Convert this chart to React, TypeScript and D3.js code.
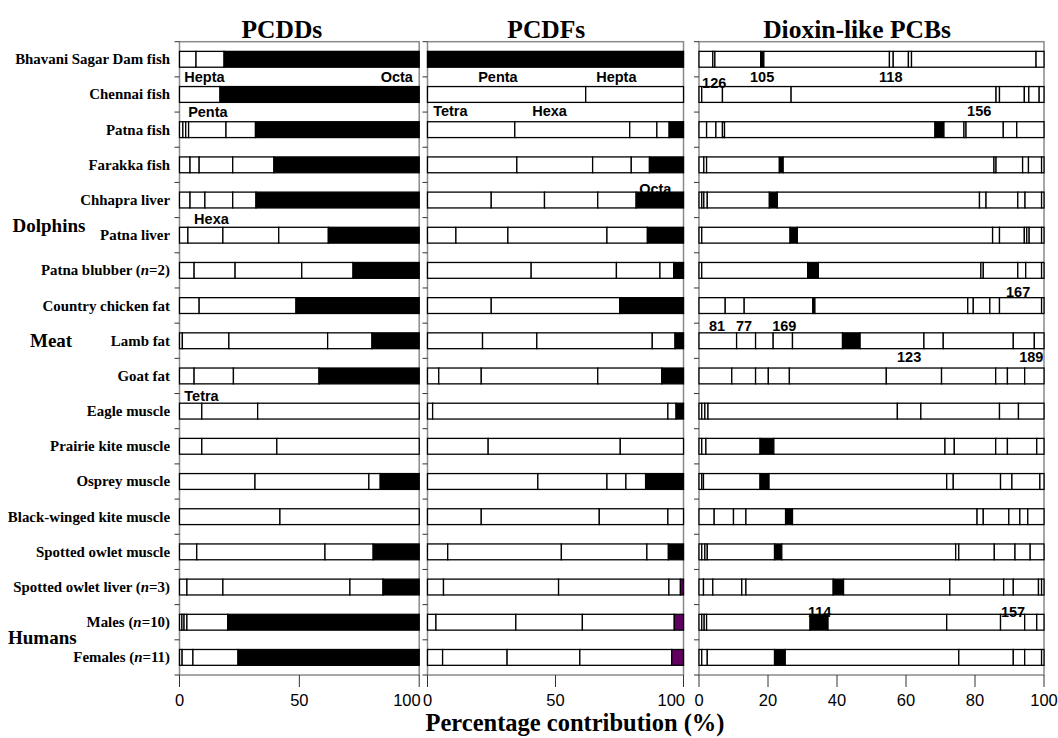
import React from "react";
import * as d3 from "d3";

const categories = [
  "Bhavani Sagar Dam fish",
  "Chennai fish",
  "Patna fish",
  "Farakka fish",
  "Chhapra liver",
  "Patna liver",
  "Patna blubber (n=2)",
  "Country chicken fat",
  "Lamb fat",
  "Goat fat",
  "Eagle muscle",
  "Prairie kite muscle",
  "Osprey muscle",
  "Black-winged kite muscle",
  "Spotted owlet muscle",
  "Spotted owlet liver (n=3)",
  "Males (n=10)",
  "Females (n=11)",
];

// PCDD homologue shares (%), last value = Octa (drawn filled)
const pcddShares = [
  [6.9, 11.7, 81.4],
  [16.9, 83.1],
  [1.4, 1.2, 1.2, 15.6, 12.3, 68.3],
  [4.4, 3.8, 14.0, 17.2, 60.6],
  [4.4, 6.2, 11.6, 9.7, 68.1],
  [3.5, 14.6, 23.3, 20.7, 37.9],
  [6.1, 17.1, 27.8, 21.4, 27.6],
  [8.2, 40.4, 51.4],
  [1.2, 19.4, 41.2, 18.5, 19.7],
  [6.1, 16.4, 35.7, 41.8],
  [9.3, 23.3, 67.4, 0],
  [9.3, 31.3, 59.4, 0],
  [31.5, 47.5, 4.75, 16.25],
  [41.9, 58.1, 0],
  [7.2, 53.5, 20.1, 19.2],
  [3.1, 15.0, 53.0, 13.8, 15.1],
  [1.0, 0.9, 1.2, 17.0, 79.9],
  [1.1, 4.5, 18.8, 75.6],
];

// PCDF homologue shares (%), last value = Octa (drawn filled)
const pcdfShares = [
  [100],
  [61.8, 38.2, 0],
  [34.1, 44.9, 10.6, 4.8, 5.6],
  [34.9, 29.6, 15.1, 7.1, 13.3],
  [24.9, 20.8, 20.8, 15.0, 18.5],
  [11.1, 20.3, 38.7, 15.8, 14.1],
  [40.5, 33.3, 17.0, 5.4, 3.8],
  [24.9, 50.2, 24.9],
  [21.5, 21.2, 45.1, 8.9, 3.3],
  [4.4, 16.6, 45.5, 25.0, 8.5],
  [2.0, 91.9, 3.2, 2.9],
  [23.7, 51.6, 24.7, 0],
  [43.1, 27.0, 7.4, 7.7, 14.8],
  [21.0, 46.1, 26.8, 6.1, 0],
  [7.9, 44.4, 33.4, 8.4, 5.9],
  [6.25, 44.95, 43.1, 4.5, 1.2],
  [3.3, 31.2, 26.0, 35.9, 3.6],
  [5.9, 25.2, 28.4, 35.9, 4.6],
];
const pcdfPurpleRows = ["Spotted owlet liver (n=3)", "Males (n=10)", "Females (n=11)"];

// Dioxin-like PCB congener shares (%)
const pcbShares = [
  [4.0, 0.6, 13.3, 0.9, 36.4, 1.1, 4.4, 0.9, 36.1, 2.3],
  [0.8, 6.0, 19.9, 59.4, 1.0, 7.2, 1.3, 3.0, 1.4],
  [2.2, 2.7, 1.9, 0.6, 61.0, 2.6, 5.8, 0.6, 10.8, 3.9, 7.9],
  [1.4, 0.8, 21.1, 1.1, 61.1, 0.6, 7.7, 1.7, 3.8, 0.7],
  [0.8, 0.6, 1.0, 18.0, 2.3, 58.6, 1.9, 9.2, 2.1, 4.8, 0.7],
  [0.8, 25.6, 2.1, 56.6, 2.0, 7.2, 0.7, 0.7, 3.6, 0.7],
  [0.8, 30.7, 3.1, 47.1, 0.7, 10.0, 2.3, 4.6, 0.7],
  [7.6, 5.5, 19.9, 0.6, 44.3, 1.6, 4.8, 2.8, 12.2, 0.7],
  [10.9, 5.5, 5.1, 5.6, 14.5, 5.1, 18.5, 5.6, 20.3, 6.1, 2.8],
  [9.5, 6.9, 3.7, 6.1, 28.1, 16.0, 15.7, 3.4, 5.0, 5.6],
  [0.8, 0.9, 0.9, 54.9, 6.8, 22.8, 5.5, 7.4],
  [0.8, 1.2, 15.7, 4.0, 49.6, 2.7, 12.0, 3.4, 8.5, 2.1],
  [0.8, 0.5, 16.4, 2.6, 51.5, 1.9, 13.7, 3.3, 8.1, 1.2],
  [4.4, 5.6, 3.6, 11.5, 2.0, 53.5, 1.8, 7.4, 3.2, 2.3, 4.7],
  [0.8, 0.9, 0.7, 19.5, 2.1, 50.4, 0.9, 10.3, 6.0, 4.4, 4.0],
  [1.3, 2.7, 8.4, 1.2, 25.3, 3.0, 30.8, 15.6, 2.8, 7.3, 0.9, 0.7],
  [0.8, 0.7, 0.7, 30.0, 5.2, 34.4, 15.6, 7.0, 3.5, 2.1],
  [0.8, 1.6, 19.5, 3.1, 50.3, 15.8, 3.3, 4.9, 0.7],
];
// index of the filled congener (PCB 126) in each row, -1 = not visible
const pcbFilledIndex = [3, -1, 5, 3, 4, 2, 2, 3, 5, -1, -1, 3, 3, 4, 4, 5, 4, 3];

const pcddTicks = [0, 50, 100];
const pcdfTicks = [0, 50, 100];
const pcbTicks = [0, 20, 40, 60, 80, 100];

const panelTitles = ["PCDDs", "PCDFs", "Dioxin-like PCBs"];
const xTitle = "Percentage contribution (%)";

const groupNames = ["Dolphins", "Meat", "Humans"];
const groupRowPos = [4.71, 8.0, 16.42];

// congener / homologue labels: panel, row it sits above, % position, text
const labelPanel = [0, 0, 0, 0, 0, 1, 1, 1, 1, 1, 2, 2, 2, 2, 2, 2, 2, 2, 2, 2, 2, 2];
const labelRow = [1, 1, 2, 5, 10, 1, 1, 2, 2, 4, 1, 1, 1, 2, 7, 8, 8, 8, 9, 9, 16, 16];
const labelAt = [2.0, 97.4, 3.6, 6.1, 2.0, 19.8, 65.9, 2.2, 40.9, 82.7, 0.9, 14.8, 52.2, 77.7, 89.0, 2.9, 10.7, 21.2, 57.4, 92.8, 31.6, 87.5];
const labelText = ["Hepta", "Octa", "Penta", "Hexa", "Tetra", "Penta", "Hepta", "Tetra", "Hexa", "Octa", "126", "105", "118", "156", "167", "81", "77", "169", "123", "189", "114", "157"];
const labelLift = [5, 5, 5, 3.3, 2, 5, 5, 5.7, 5.7, -1.4, -1.5, 4.9, 4.9, 5.7, 1, 1.8, 1.8, 1.8, 5.7, 5.7, -2.5, -2.5];

const W = 1058;
const H = 738;
const TOP = 41.7;
const BOTTOM = 675;
const SERIF = "'Liberation Serif', 'Times New Roman', serif";
const SANS = "'Liberation Sans', Arial, sans-serif";
const PURPLE = "#620062";

const panels = [
  { x0: 179.5, x1: 419.2, shares: pcddShares, ticks: pcddTicks, titleAt: 42.7, endAnchorLast: true },
  { x0: 427.5, x1: 683.5, shares: pcdfShares, ticks: pcdfTicks, titleAt: 46.4, endAnchorLast: true },
  { x0: 699, x1: 1044, shares: pcbShares, ticks: pcbTicks, titleAt: 45.8, endAnchorLast: false },
];

function RowLabel({ text, x, y }: { text: string; x: number; y: number }) {
  const m = text.match(/^(.*)\(n=(\d+)\)$/);
  return (
    <text x={x} y={y} textAnchor="end" dominantBaseline="central" fontFamily={SERIF} fontWeight="bold" fontSize={14.9}>
      {m ? (
        <>
          {m[1]}(<tspan fontStyle="italic">n</tspan>={m[2]})
        </>
      ) : (
        text
      )}
    </text>
  );
}

export default function App() {
  const y = d3
    .scaleBand<string>()
    .domain(categories)
    .range([TOP, BOTTOM])
    .paddingInner(0.55)
    .paddingOuter(0.275);
  const step = y.step();
  const bw = y.bandwidth();
  const rowCenter = (pos: number) => TOP + 0.275 * step + pos * step + bw / 2;

  return (
    <svg width={W} height={H} style={{ position: "absolute", left: 0, top: 0, background: "#fff" }}>
      {/* row labels */}
      {categories.map((c) => (
        <RowLabel key={c} text={c} x={170} y={(y(c) as number) + bw / 2} />
      ))}
      {groupNames.map((g, i) => (
        <text
          key={g}
          x={[12.5, 30, 8][i]}
          y={rowCenter(groupRowPos[i])}
          dominantBaseline="central"
          fontFamily={SERIF}
          fontWeight="bold"
          fontSize={19}
        >
          {g}
        </text>
      ))}

      {panels.map((p, pi) => {
        const x = d3.scaleLinear().domain([0, 100]).range([p.x0, p.x1]);
        return (
          <g key={pi}>
            <text
              x={x(p.titleAt)}
              y={38}
              textAnchor="middle"
              fontFamily={SERIF}
              fontWeight="bold"
              fontSize={25.5}
            >
              {panelTitles[pi]}
            </text>
            {/* frame */}
            <rect
              x={p.x0}
              y={TOP}
              width={p.x1 - p.x0}
              height={BOTTOM - TOP}
              fill="none"
              stroke="#8a8a8a"
              strokeWidth={1.5}
            />
            {/* y ticks at band boundaries */}
            {d3.range(categories.length + 1).map((i) => (
              <line
                key={i}
                x1={p.x0 - 5}
                x2={p.x0}
                y1={TOP + i * step}
                y2={TOP + i * step}
                stroke="#333"
                strokeWidth={1}
              />
            ))}
            {/* x ticks */}
            {p.ticks.map((t, ti) => {
              const isLast = ti === p.ticks.length - 1 && p.endAnchorLast;
              return (
                <g key={t}>
                  <line x1={x(t)} x2={x(t)} y1={BOTTOM} y2={BOTTOM + 12} stroke="#333" strokeWidth={1} />
                  <text
                    x={isLast ? x(t) + 1.5 : x(t)}
                    y={BOTTOM + 31}
                    textAnchor={isLast ? "end" : "middle"}
                    fontFamily={SANS}
                    fontSize={16.5}
                  >
                    {t}
                  </text>
                </g>
              );
            })}
            {/* bars */}
            {categories.map((c, ri) => {
              const vals = p.shares[ri];
              const total = d3.sum(vals);
              const cum = d3.cumsum(vals);
              const filledIdx = pi === 2 ? pcbFilledIndex[ri] : vals.length - 1;
              const fillColor = pi === 1 && pcdfPurpleRows.includes(c) ? PURPLE : "#000";
              return (
                <g key={c}>
                  {vals.map((v, si) => {
                    if (v <= 0) return null;
                    const a = ((cum[si] - v) / total) * 100;
                    const b = (cum[si] / total) * 100;
                    return (
                      <rect
                        key={si}
                        x={x(a)}
                        y={y(c)}
                        width={x(b) - x(a)}
                        height={bw}
                        fill={si === filledIdx ? fillColor : "#fff"}
                        stroke="#000"
                        strokeWidth={1.3}
                      />
                    );
                  })}
                </g>
              );
            })}
          </g>
        );
      })}

      {/* homologue / congener labels */}
      {labelText.map((t, i) => {
        const p = panels[labelPanel[i]];
        const x = d3.scaleLinear().domain([0, 100]).range([p.x0, p.x1]);
        const barTop = y(categories[labelRow[i]]) as number;
        const anchor = t === "Octa" && labelPanel[i] === 0 ? "end" : "start";
        return (
          <text
            key={i}
            x={x(labelAt[i])}
            y={barTop - labelLift[i]}
            textAnchor={anchor}
            fontFamily={SANS}
            fontWeight="bold"
            fontSize={14.5}
          >
            {t}
          </text>
        );
      })}

      <text x={575} y={731} textAnchor="middle" fontFamily={SERIF} fontWeight="bold" fontSize={24.5}>
        {xTitle}
      </text>
    </svg>
  );
}
